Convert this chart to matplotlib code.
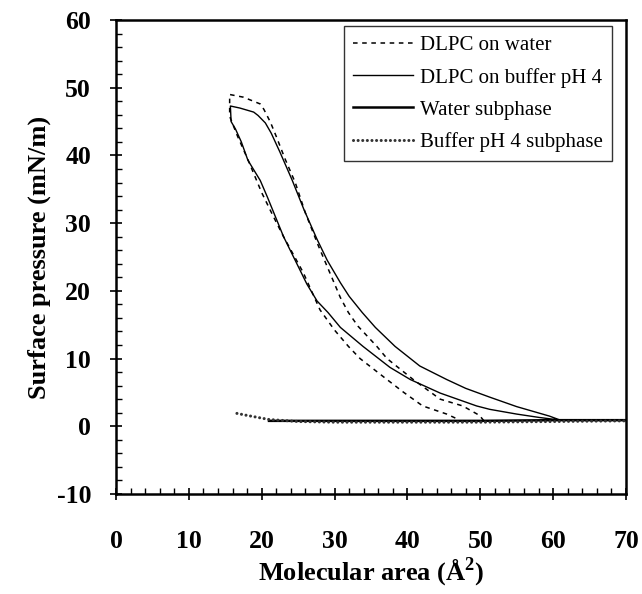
import matplotlib
matplotlib.use("Agg")
import matplotlib.pyplot as plt
from matplotlib.ticker import MultipleLocator

# ---- data ----
# DLPC on water: compression branch (outer) then expansion branch (inner)
water_comp_x = [50.5, 49.9, 47.6, 44.5, 40.8, 37.2, 35.8, 33.2, 31.9, 30.8, 27.8, 26.0, 24.6,
                23.2, 22.0, 21.2, 20.3, 19.8, 17.5, 15.6]
water_comp_y = [0.8, 1.6, 3.0, 4.0, 6.9, 10.0, 11.8, 14.8, 16.8, 19.0, 26.6, 31.5, 36.0,
                39.5, 42.8, 44.9, 46.8, 47.6, 48.6, 49.0]
water_exp_x = [15.6, 15.7, 16.7, 18.1, 20.0, 21.5, 23.0, 25.7, 28.0, 30.0, 31.9, 33.5, 37.2,
               39.5, 42.1, 45.4, 47.0]
water_exp_y = [46.4, 45.5, 42.8, 39.4, 34.5, 31.2, 28.0, 22.7, 17.2, 14.2, 11.8, 10.0, 6.9,
               5.0, 3.0, 1.8, 1.0]

# DLPC on buffer pH 4
buf_comp_x = [61.0, 59.5, 55.0, 51.3, 48.0, 45.4, 41.7, 38.3, 35.6, 33.8, 32.0, 30.8, 29.0,
              27.6, 25.8, 24.2, 22.5, 21.3, 20.5, 19.5, 18.9, 17.0, 15.7]
buf_comp_y = [0.9, 1.5, 2.9, 4.3, 5.6, 6.9, 8.9, 11.8, 14.6, 16.8, 19.2, 21.2, 24.5,
              27.6, 32.0, 36.3, 40.5, 43.3, 44.8, 45.9, 46.4, 47.0, 47.3]
buf_exp_x = [15.7, 15.8, 16.4, 17.2, 18.1, 19.8, 20.8, 23.0, 26.2, 27.6, 29.1, 30.8, 33.9,
             37.6, 40.4, 44.5, 49.5, 51.3, 55.0, 58.1, 61.0]
buf_exp_y = [47.3, 45.0, 43.9, 42.0, 39.3, 36.3, 33.8, 28.0, 21.0, 18.5, 16.8, 14.6, 11.8,
             8.7, 6.9, 4.9, 3.0, 2.5, 1.8, 1.3, 0.9]

# Subphases
water_sub_x = [21, 30, 40, 50, 60, 70]
water_sub_y = [0.8, 0.8, 0.8, 0.8, 0.9, 0.9]
buffer_sub_x = [16.6, 18.0, 19.5, 21.0, 25.0, 30.0, 40.0, 50.0, 60.0, 70.0]
buffer_sub_y = [1.9, 1.6, 1.3, 1.0, 0.7, 0.6, 0.6, 0.6, 0.7, 0.8]

labels = ["DLPC on water", "DLPC on buffer pH 4", "Water subphase", "Buffer pH 4 subphase"]
xticks = [0, 10, 20, 30, 40, 50, 60, 70]
yticks = [-10, 0, 10, 20, 30, 40, 50, 60]

# ---- figure ----
plt.rcParams["font.family"] = ["Liberation Serif", "DejaVu Serif"]
plt.rcParams["axes.unicode_minus"] = False
plt.rcParams["mathtext.fontset"] = "custom"
plt.rcParams["mathtext.rm"] = "Liberation Serif"
plt.rcParams["mathtext.bf"] = "Liberation Serif:bold"

fig = plt.figure(figsize=(6.42, 5.94), dpi=100)
ax = fig.add_axes([0.1807, 0.1684, 0.975 - 0.1807, 0.9663 - 0.1684])

ax.plot(water_comp_x + water_exp_x, water_comp_y + water_exp_y, color="black",
        lw=1.1, dashes=(3, 3), label=labels[0])
ax.plot(buf_comp_x + buf_exp_x, buf_comp_y + buf_exp_y, color="black",
        lw=1.0, label=labels[1])
ax.plot(water_sub_x, water_sub_y, color="black", lw=1.8, label=labels[2])
ax.plot(buffer_sub_x, buffer_sub_y, color="#333333", lw=2.2, dashes=(0.01, 1.5),
        dash_capstyle="round", label=labels[3])

ax.set_xlim(0, 70)
ax.set_ylim(-10, 60)
ax.set_xticks(xticks)
ax.set_yticks(yticks)
ax.xaxis.set_minor_locator(MultipleLocator(2))
ax.yaxis.set_minor_locator(MultipleLocator(2))
ax.tick_params(which="major", direction="inout", length=8, width=1.2, labelsize=18.5)
ax.tick_params(axis="x", which="major", pad=22)
ax.tick_params(axis="y", which="major", pad=14)
ax.tick_params(which="minor", direction="in", length=4, width=1.0)
for lbl in ax.get_xticklabels() + ax.get_yticklabels():
    lbl.set_fontweight("bold")
for s in ax.spines.values():
    s.set_linewidth(1.8)

ax.set_xlabel(r"Molecular area (Å$^{\mathbf{2}}$)", fontsize=19, fontweight="bold", labelpad=2)
ax.set_ylabel("Surface pressure (mN/m)", fontsize=19, fontweight="bold", labelpad=4)

leg = ax.legend(loc="upper right", bbox_to_anchor=(0.9725, 0.987), fontsize=15,
                frameon=True, fancybox=False, edgecolor="black", handlelength=2.9,
                handletextpad=0.3, borderpad=0.45, labelspacing=0.6, borderaxespad=0)
leg.get_frame().set_linewidth(1.0)

fig.savefig("out.png", dpi=100)
